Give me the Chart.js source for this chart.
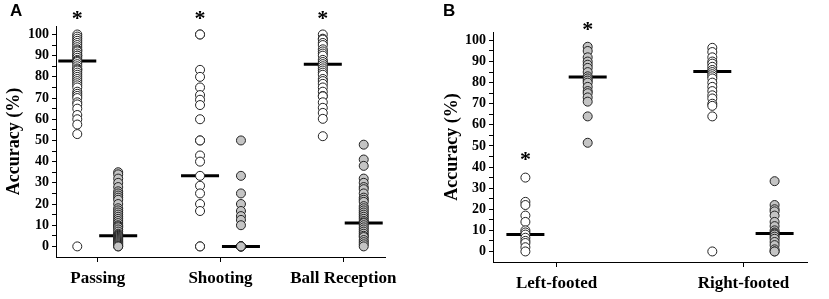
<!DOCTYPE html>
<html lang="en">
<head>
<meta charset="UTF-8">
<title>Accuracy dot plots</title>
<script src="https://cdn.jsdelivr.net/npm/chart.js@4"></script>
<style>
  body { margin: 0; background: #fff; }
  #wrap { position: relative; width: 829px; height: 299px; }
  canvas { position: absolute; top: 0; }
  .tag { position: absolute; font: bold 17px "Liberation Sans", Arial, sans-serif; }
</style>
</head>
<body>
<div id="wrap">
  <canvas id="chartA" width="410" height="299" style="left:0"></canvas>
  <canvas id="chartB" width="419" height="299" style="left:410px"></canvas>
  <div class="tag" style="left:10px;top:1px">A</div>
  <div class="tag" style="left:443px;top:1px">B</div>
</div>
<script>
// panel A
const catsA = ['Passing', 'Shooting', 'Ball Reception'];
const passWhite = [100, 99, 98, 97, 96, 95, 94, 93, 92.5, 92, 91, 90, 90, 89, 88, 87.5, 87, 86, 85, 84, 83.5, 83, 82, 81, 80, 79, 78, 77, 76, 75, 73, 72, 71, 70, 68, 67, 65, 62, 60, 57.5, 53, 0];
const passGray = [35, 34, 32, 30, 28, 26, 25, 24, 23, 22, 20, 18, 17, 16, 15, 14, 13, 12, 11, 10, 9.5, 9, 8, 7, 6, 5.5, 5, 5, 4.5, 4, 3.5, 3, 2.5, 2, 1.5, 1, 0.5, 0, 0];
const shootWhite = [100, 100, 83.3, 80, 75, 71.4, 69.2, 66.7, 60, 50, 50, 42.9, 40, 33.3, 28.6, 25, 20, 16.7, 0, 0];
const shootGray = [50, 33.3, 25, 20, 16.7, 14.3, 12.5, 10, 0, 0, 0, 0, 0, 0];
const recWhite = [100, 98, 97.6, 96, 95, 93, 92, 91, 90, 88, 87, 86, 85, 84, 83, 82, 81, 79, 78, 76.7, 75, 73, 71, 70.8, 68, 65.4, 63, 60.2, 52];
const recGray = [48, 41, 38, 32, 30, 28, 27, 25, 23, 22, 21, 19, 18, 17, 16, 15, 14, 13, 12, 11.3, 11, 10, 9, 8, 7, 6, 5, 4.4, 3, 2, 1, 0];
const medWhiteA = [87.5, 33.3, 86];
const medGrayA = [5, 0, 11];
const starCatA = [1, 2, 3];
const starSideA = ['white', 'white', 'white'];
const starValA = [109, 109, 109];

// panel B
const catsB = ['Left-footed', 'Right-footed'];
const leftWhite = [35, 23.5, 22, 17, 14, 10, 9, 8, 6.5, 5, 4, 2, 0];
const leftGray = [97, 95, 92, 90, 88.5, 87, 85, 83, 82, 81, 80, 78, 76, 75, 73, 71, 64, 51.5];
const rightWhite = [96.5, 94.5, 92, 90, 89, 87.5, 86, 85, 84, 83, 82, 80, 78, 76, 74, 72.5, 70, 69, 64, 0];
const rightGray = [33.3, 22, 20, 19, 17, 14, 12, 10, 9, 8.5, 8, 7, 6, 4.5, 3, 1, 0, 0];
const medWhiteB = [8, 85.3];
const medGrayB = [82.7, 8.5];
const starCatB = [1, 1];
const starSideB = ['white', 'gray'];
const starValB = [45, 106.4];

// y ticks every 5, labelled every 10
const yTicks = [0, 5, 10, 15, 20, 25, 30, 35, 40, 45, 50, 55, 60, 65, 70, 75, 80, 85, 90, 95, 100];

const SHIFT = 1 / 6;   // white column left of the tick, gray column right
const serif = '"Liberation Serif", "Times New Roman", serif';

function toPoints(groups, shift) {
    const pts = [];
    groups.forEach((vals, i) => vals.forEach(v => pts.push({ x: i + 1 + shift, y: v })));
    return pts;
}

function dotChart(id, cats, white, gray, medW, medG, stars, lay) {
    const medians = medW.map((m, i) => ({ x: i + 1 - SHIFT, y: m }))
        .concat(medG.map((m, i) => ({ x: i + 1 + SHIFT, y: m })));

    const starPlugin = {
        id: 'stars',
        afterDraw(chart) {
            const ctx = chart.ctx;
            const xs = chart.scales.x, ys = chart.scales.y;
            ctx.save();
            ctx.font = 'bold 22px ' + serif;
            ctx.fillStyle = '#000';
            ctx.textAlign = 'center';
            ctx.textBaseline = 'alphabetic';
            const m = ctx.measureText('*');
            const shiftY = (m.actualBoundingBoxAscent - m.actualBoundingBoxDescent) / 2;
            stars.cat.forEach((c, i) => {
                const x = xs.getPixelForValue(c + (stars.side[i] === 'white' ? -SHIFT : SHIFT));
                const y = ys.getPixelForValue(stars.val[i]);
                ctx.fillText('*', x, y + shiftY);
            });
            ctx.restore();
        }
    };

    return new Chart(document.getElementById(id), {
        type: 'scatter',
        data: {
            datasets: [
                { data: toPoints(white, -SHIFT), pointRadius: 4.5, pointBackgroundColor: '#fff',
                  pointBorderColor: '#222', pointBorderWidth: 1 },
                { data: toPoints(gray, SHIFT), pointRadius: 4.5, pointBackgroundColor: '#c4c4c4',
                  pointBorderColor: '#222', pointBorderWidth: 1 },
                { data: medians, pointStyle: 'line', pointRadius: 19, pointBorderColor: '#000',
                  pointBorderWidth: 3 }
            ]
        },
        options: {
            responsive: false,
            animation: false,
            events: [],
            layout: { padding: { left: 0, right: lay.right, top: lay.top, bottom: 0 } },
            plugins: { legend: { display: false }, tooltip: { enabled: false } },
            scales: {
                x: {
                    type: 'linear',
                    min: 0.66,
                    max: cats.length + 0.34,
                    afterBuildTicks: axis => { axis.ticks = cats.map((c, i) => ({ value: i + 1 })); },
                    afterFit: axis => { axis.height = lay.xh; },
                    ticks: {
                        callback: v => cats[Math.round(v) - 1],
                        font: { family: serif, size: 17, weight: 'bold' },
                        color: '#000',
                        padding: 6,
                        maxRotation: 0,
                        autoSkip: false
                    },
                    grid: { drawOnChartArea: false, drawTicks: true, tickLength: 5, color: '#000' },
                    border: { color: '#000', width: 1 }
                },
                y: {
                    min: -5,
                    max: 104,
                    afterBuildTicks: axis => { axis.ticks = yTicks.map(v => ({ value: v })); },
                    afterFit: axis => { axis.width = lay.yw; },
                    ticks: {
                        callback: v => (v % 10 === 0 ? String(v) : ''),
                        font: { family: serif, size: 14, weight: 'bold' },
                        color: '#000',
                        padding: 3,
                        autoSkip: false
                    },
                    grid: { drawOnChartArea: false, drawTicks: true, tickLength: 4, color: '#000' },
                    border: { color: '#000', width: 1 },
                    title: {
                        display: true,
                        text: 'Accuracy (%)',
                        font: { family: serif, size: 18, weight: 'bold' },
                        color: '#000',
                        padding: { top: lay.titlePad, bottom: 0 }
                    }
                }
            }
        },
        plugins: [starPlugin]
    });
}

dotChart('chartA', catsA,
    [passWhite, shootWhite, recWhite], [passGray, shootGray, recGray],
    medWhiteA, medGrayA,
    { cat: starCatA, side: starSideA, val: starValA },
    { right: 25, top: 26, xh: 42, yw: 56, titlePad: 4 });

dotChart('chartB', catsB,
    [leftWhite, rightWhite], [leftGray, rightGray],
    medWhiteB, medGrayB,
    { cat: starCatB, side: starSideB, val: starValB },
    { right: 7, top: 32, xh: 37, yw: 83, titlePad: 32 });
</script>
</body>
</html>
